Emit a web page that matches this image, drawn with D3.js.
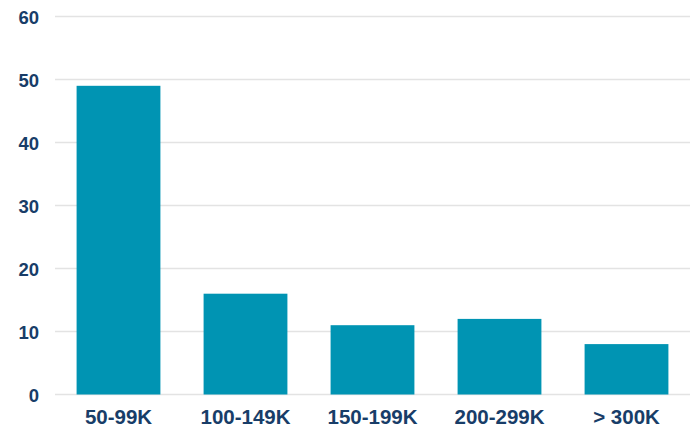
<!DOCTYPE html>
<html lang="en">
<head>
    <meta charset="UTF-8">
    <title>Chart</title>
    <script src="https://unpkg.com/d3@7.8.5/dist/d3.min.js"></script>
    <style>
        * { margin: 0; padding: 0; box-sizing: border-box; }
        body { background: #fff; }
        svg { display: block; }
    </style>
</head>
<body>
    <svg class="cc"></svg>
    <script>
        // 数据
        const categories = ['50-99K', '100-149K', '150-199K', '200-299K', '> 300K']
        const values = [49, 16, 11, 12, 8]
        const yTicks = [0, 10, 20, 30, 40, 50, 60]

        const width = 695
        const height = 428
        const margin = { top: 16.5, right: 5, bottom: 33.5, left: 55 }

        const svg = d3.select('svg')
            .attr('width', width)
            .attr('height', height)

        const x = d3.scaleBand()
            .domain(categories)
            .range([margin.left, width - margin.right])
            .paddingInner(0.34)
            .paddingOuter(0.17)

        const y = d3.scaleLinear()
            .domain([0, 60])
            .range([height - margin.bottom, margin.top])

        // 网格线
        svg.append('g')
            .selectAll('line')
            .data(yTicks)
            .join('line')
            .attr('x1', margin.left)
            .attr('x2', width - margin.right)
            .attr('y1', d => y(d))
            .attr('y2', d => y(d))
            .attr('stroke', '#e3e3e3')
            .attr('stroke-width', 1.5)

        // y轴
        const yAxis = svg.append('g')
            .attr('transform', `translate(${margin.left - 16},0)`)
            .call(d3.axisLeft(y).tickValues(yTicks).tickSize(0).tickPadding(0))
        yAxis.select('.domain').remove()
        yAxis.selectAll('text')
            .attr('fill', '#183d68')
            .attr('font-family', 'Liberation Sans, Arial, sans-serif')
            .attr('font-weight', 'bold')
            .attr('font-size', 18.5)
            .attr('dy', '0.36em')

        // 柱子
        svg.append('g')
            .selectAll('rect')
            .data(values)
            .join('rect')
            .attr('x', (d, i) => x(categories[i]))
            .attr('y', d => y(d))
            .attr('width', x.bandwidth())
            .attr('height', d => y(0) - y(d))
            .attr('fill', '#0094b3')

        // x轴
        const xAxis = svg.append('g')
            .attr('transform', `translate(0,${height - margin.bottom})`)
            .call(d3.axisBottom(x).tickSize(0).tickPadding(0))
        xAxis.select('.domain').remove()
        xAxis.selectAll('text')
            .attr('fill', '#183d68')
            .attr('font-family', 'Liberation Sans, Arial, sans-serif')
            .attr('font-weight', 'bold')
            .attr('font-size', 20.5)
            .attr('dy', null)
            .attr('y', 29.5)
    </script>
</body>
</html>
